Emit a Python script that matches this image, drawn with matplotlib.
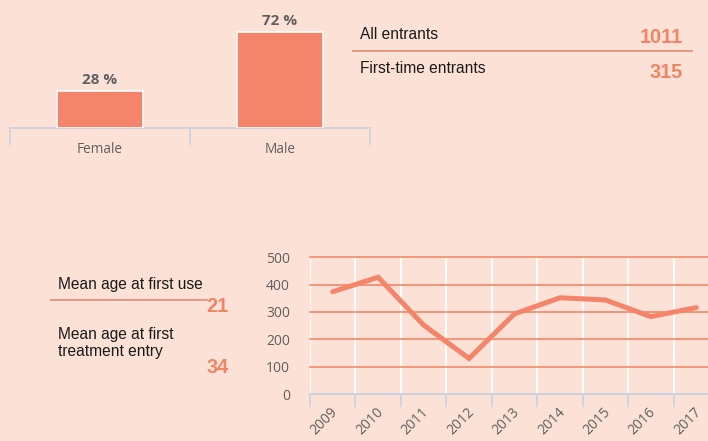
import matplotlib
matplotlib.use("Agg")
import matplotlib.pyplot as plt
import matplotlib.transforms as mtransforms
from matplotlib.lines import Line2D

# ---------------- data ----------------
gender_labels = ["Female", "Male"]
gender_pct = [28, 72]

entrant_labels = ["All entrants", "First-time entrants"]
entrant_values = ["1011", "315"]

age_labels = ["Mean age at first use", "Mean age at first\ntreatment entry"]
age_values = ["21", "34"]

years = ["2009", "2010", "2011", "2012", "2013", "2014", "2015", "2016", "2017"]
entrants_by_year = [374, 427, 252, 130, 293, 352, 344, 283, 316]
y_ticks = [0, 100, 200, 300, 400, 500]

# ---------------- style ----------------
W, H = 708, 441
BG = "#FCE2D6"
ORANGE = "#F4846A"
NUM = "#F08566"
GRAY = "#5F5F5F"
AXIS = "#C9D0E2"

fig = plt.figure(figsize=(W / 100, H / 100), dpi=100, facecolor=BG)


def fx(x):
    return x / W


def fy(y):
    return 1 - y / H


def rect(l, t, r, b):
    return [fx(l), fy(b), (r - l) / W, (b - t) / H]


# ---------------- bar chart ----------------
ax1 = fig.add_axes(rect(10, 21.3, 370, 128))
ax1.set_facecolor("none")
xs = list(range(len(gender_pct)))
ax1.bar(xs, gender_pct, width=0.48, color=ORANGE, edgecolor="white", linewidth=1.2, zorder=3)
ax1.set_xlim(-0.5, 1.5)
ax1.set_ylim(0, 80)
for s in ["top", "right", "left"]:
    ax1.spines[s].set_visible(False)
ax1.spines["bottom"].set_color(AXIS)
ax1.spines["bottom"].set_linewidth(1.2)
ax1.set_yticks([])
ax1.set_xticks([-0.5, 0.5, 1.5])
ax1.set_xticklabels([])
ax1.tick_params(axis="x", direction="out", length=12, width=1.2, color=AXIS)
for x, v, lab in zip(xs, gender_pct, gender_labels):
    ax1.annotate(f"{v} %", (x, v), xytext=(0, 5), textcoords="offset points",
                 ha="center", va="baseline", fontsize=11, fontweight="bold",
                 color=GRAY, family="Open Sans")
    ax1.annotate(lab, (x, 0), xytext=(0, -18), textcoords="offset points",
                 ha="center", va="baseline", fontsize=9.8, color=GRAY, family="Open Sans")

# ---------------- entrant stats ----------------
ent_base = [39, 73.3]
ent_num_base = [43.3, 78.3]
for lab, val, yb, yn in zip(entrant_labels, entrant_values, ent_base, ent_num_base):
    fig.text(fx(360.5), fy(yb), lab, ha="left", va="baseline", fontsize=11.2,
             color="#1a1a1a", family="Liberation Sans")
    fig.text(fx(682.5), fy(yn), val, ha="right", va="baseline", fontsize=14.3,
             fontweight="bold", color=NUM, family="Liberation Sans")
fig.add_artist(Line2D([fx(353), fx(692)], [fy(50.5), fy(50.5)], color="#F07A5C", lw=1.1))
fig.add_artist(Line2D([fx(353), fx(692)], [fy(51.8), fy(51.8)], color="#F3ECEA", lw=0.8))

# ---------------- mean ages ----------------
fig.text(fx(58.3), fy(289), age_labels[0], ha="left", va="baseline", fontsize=11.2,
         color="#1a1a1a", family="Liberation Sans")
fig.text(fx(58.3), fy(356), age_labels[1], ha="left", va="baseline", fontsize=11.2,
         color="#1a1a1a", family="Liberation Sans", linespacing=1.2)
fig.text(fx(228), fy(311.7), age_values[0], ha="right", va="baseline", fontsize=14.3,
         fontweight="bold", color=NUM, family="Liberation Sans")
fig.text(fx(229), fy(372.7), age_values[1], ha="right", va="baseline", fontsize=14.3,
         fontweight="bold", color=NUM, family="Liberation Sans")
fig.add_artist(Line2D([fx(51), fx(207)], [fy(299.5), fy(299.5)], color="#F07A5C", lw=1.1))
fig.add_artist(Line2D([fx(51), fx(207)], [fy(300.8), fy(300.8)], color="#F3ECEA", lw=0.8))

# ---------------- line chart ----------------
ax2 = fig.add_axes(rect(310, 257.3, 719, 394))
ax2.set_facecolor("none")
n = len(years)
xi = list(range(n))
ax2.set_xlim(-0.5, n - 0.5)
ax2.set_ylim(0, 500)
for yv in y_ticks[1:]:
    ax2.axhline(yv, color="#F4805F", lw=1.1, zorder=1, clip_on=False)
for b in range(n + 1):
    ax2.axvline(b - 0.5, color="white", lw=1.3, zorder=0.9)
ax2.plot(xi, entrants_by_year, color=ORANGE, lw=3.6, solid_capstyle="round",
         solid_joinstyle="miter", zorder=3, clip_on=False)
for s in ["top", "right", "left"]:
    ax2.spines[s].set_visible(False)
ax2.spines["bottom"].set_color(AXIS)
ax2.spines["bottom"].set_linewidth(1.5)
ax2.spines["bottom"].set_zorder(2)
ax2.set_yticks(y_ticks)
ax2.set_yticklabels([str(v) for v in y_ticks], family="Open Sans", fontsize=10, color=GRAY)
ax2.tick_params(axis="y", length=0, pad=14.5)
ax2.set_xticks(xi)
ax2.set_xticklabels(years, rotation=45, ha="right", va="center", rotation_mode="anchor",
                    family="Open Sans", fontsize=10, color=GRAY)
ax2.tick_params(axis="x", which="major", length=0, pad=11.5)
ax2.set_xticks([b - 0.5 for b in range(n + 1)], minor=True)
ax2.tick_params(axis="x", which="minor", direction="out", length=9, width=1.2, color=AXIS)
offset = mtransforms.ScaledTranslation(3 / 100, 0, fig.dpi_scale_trans)
for lbl in ax2.get_xticklabels():
    lbl.set_transform(lbl.get_transform() + offset)

fig.savefig("out.png", dpi=100, facecolor=BG)
